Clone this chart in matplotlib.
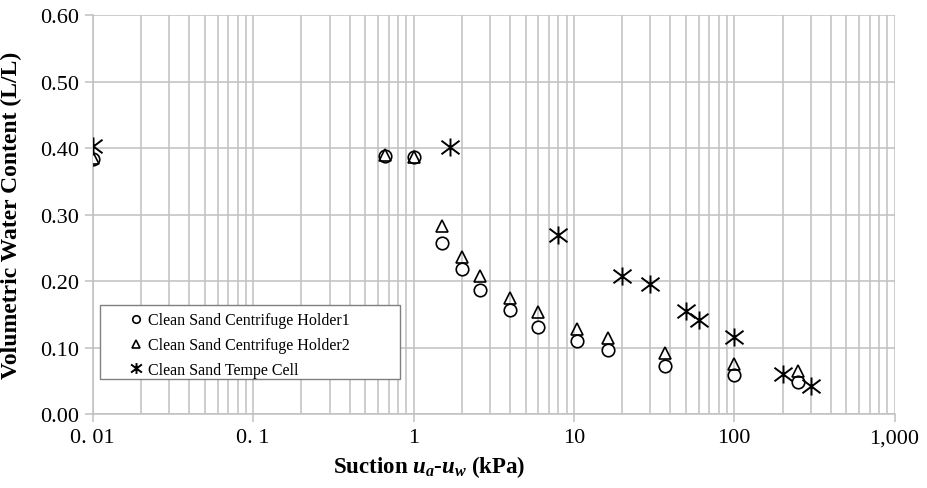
import matplotlib
matplotlib.use("Agg")
import matplotlib.pyplot as plt
from matplotlib.path import Path
from matplotlib.patches import Rectangle
from matplotlib.ticker import FixedLocator, LogLocator, NullFormatter

plt.rcParams['font.family'] = ['Liberation Serif', 'DejaVu Serif']
plt.rcParams['mathtext.fontset'] = 'custom'
plt.rcParams['mathtext.it'] = 'Liberation Serif:italic:bold'
plt.rcParams['mathtext.rm'] = 'Liberation Serif:bold'
plt.rcParams['mathtext.bf'] = 'Liberation Serif:bold'

# suction (kPa) and volumetric water content (L/L)
holder1_suction = [0.01, 0.66, 1.0, 1.5, 2.0, 2.6, 4.0, 6.0, 10.5, 16.4, 37, 100, 250]
holder1_vwc = [0.383, 0.388, 0.386, 0.258, 0.219, 0.186, 0.156, 0.131, 0.110, 0.096, 0.073, 0.059, 0.049]

holder2_suction = [0.01, 0.66, 1.0, 1.5, 2.0, 2.6, 4.0, 6.0, 10.5, 16.4, 37, 100, 250]
holder2_vwc = [0.385, 0.389, 0.387, 0.283, 0.236, 0.208, 0.175, 0.153, 0.128, 0.115, 0.092, 0.075, 0.065]

tempe_suction = [0.01, 1.7, 8, 20, 30, 50, 60, 100, 200, 300]
tempe_vwc = [0.403, 0.401, 0.270, 0.207, 0.196, 0.155, 0.141, 0.116, 0.061, 0.043]

xtick_vals = [0.01, 0.1, 1, 10, 100, 1000]
xtick_labels = ['0. 01', '0. 1', '1', '10', '100', '1,000']
ytick_vals = [0.0, 0.1, 0.2, 0.3, 0.4, 0.5, 0.6]

grid_col = '#c0c0c0'

# X with a vertical bar through it
star = Path([(-1, -0.75), (1, 0.75), (-1, 0.75), (1, -0.75), (0, -1), (0, 1)],
            [Path.MOVETO, Path.LINETO, Path.MOVETO, Path.LINETO, Path.MOVETO, Path.LINETO])

fig = plt.figure(figsize=(9.28, 4.89), dpi=100)
ax = fig.add_axes([0.100, 0.151, 0.864, 0.816])

ax.plot(holder1_suction, holder1_vwc, linestyle='none', marker='o', ms=9,
        mfc='white', mec='black', mew=1.2, label='Clean Sand Centrifuge Holder1', zorder=3)
ax.plot(holder2_suction, holder2_vwc, linestyle='none', marker='^', ms=9,
        mfc='none', mec='black', mew=1.2, label='Clean Sand Centrifuge Holder2', zorder=3)
ax.plot(tempe_suction, tempe_vwc, linestyle='none', marker=star, ms=13,
        mfc='none', mec='black', mew=1.4, label='Clean Sand Tempe Cell', zorder=3)

ax.set_xscale('log')
ax.set_xlim(0.01, 1000)
ax.set_ylim(0, 0.6)

ax.xaxis.set_major_locator(FixedLocator(xtick_vals))
ax.set_xticklabels(xtick_labels)
ax.xaxis.set_minor_locator(LogLocator(base=10, subs=range(2, 10), numticks=20))
ax.xaxis.set_minor_formatter(NullFormatter())
ax.set_yticks(ytick_vals)
ax.set_yticklabels(['%.2f' % v for v in ytick_vals])

ax.grid(True, which='both', axis='x', color=grid_col, lw=1.1)
ax.grid(True, which='major', axis='y', color=grid_col, lw=1.1)
ax.set_axisbelow(True)

for side in ['top', 'right']:
    ax.spines[side].set_visible(False)
for side in ['left', 'bottom']:
    ax.spines[side].set_color(grid_col)
    ax.spines[side].set_linewidth(1.1)

ax.tick_params(axis='both', which='major', labelsize=16, color=grid_col,
               length=6, width=1.1, direction='out', pad=4)
ax.tick_params(axis='x', which='minor', length=0)

ax.set_xlabel('Suction $u_a$-$u_w$ (kPa)', fontsize=16.5, fontweight='bold')
ax.set_ylabel('Volumetric Water Content (L/L)', fontsize=17, fontweight='bold')
ax.xaxis.set_label_coords(0.42, -0.098)
ax.yaxis.set_label_coords(-0.088, 0.5)

# legend box drawn separately so the entries sit indented inside it
ax.add_patch(Rectangle((0.009, 0.088), 0.374, 0.185, transform=ax.transAxes,
                       facecolor='white', edgecolor='#808080', lw=1.0, zorder=4))
leg = ax.legend(loc='center left', bbox_to_anchor=(0.0345, 0.173), frameon=False,
                fontsize=11.5, borderpad=0, handlelength=1.0, handletextpad=0.2,
                labelspacing=0.55, markerscale=0.6)
leg.set_zorder(5)

fig.savefig('out.png', dpi=100, facecolor='white')
